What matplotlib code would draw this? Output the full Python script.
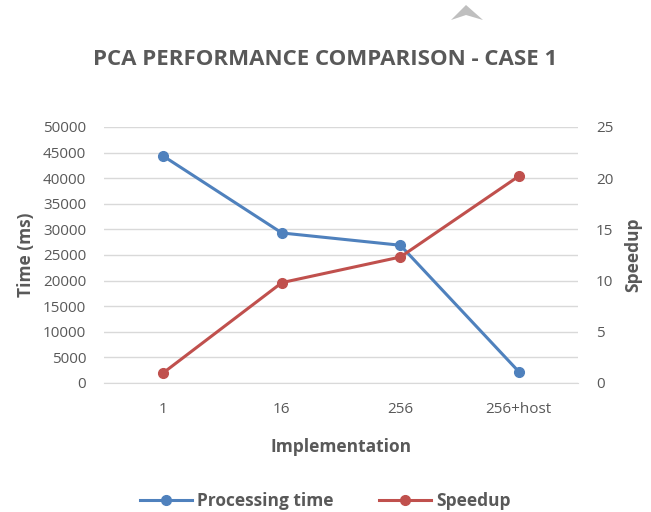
import numpy as np
import matplotlib
matplotlib.use('Agg')
import matplotlib.pyplot as plt
from matplotlib.patches import Polygon

categories = ['1', '16', '256', '256+host']
proc_time = [44300, 29300, 26900, 2200]
speedup = [1.0, 9.8, 12.3, 20.2]

BLUE = '#4f81bd'
RED = '#c0504d'
GRAY = '#595959'

plt.rcParams['font.family'] = ['Open Sans', 'DejaVu Sans']

fig = plt.figure(figsize=(6.51, 5.12), dpi=100)
ax = fig.add_axes([0.160, 0.252, 0.728, 0.500])
ax2 = ax.twinx()

x = np.arange(len(categories))
l1, = ax.plot(x, proc_time, color=BLUE, lw=2.2, marker='o', ms=7, label='Processing time')
l2, = ax2.plot(x, speedup, color=RED, lw=2.2, marker='o', ms=7, label='Speedup')

ax.set_xlim(-0.5, 3.5)
ax.set_ylim(0, 50000)
ax.set_yticks(np.arange(0, 50001, 5000))
ax2.set_ylim(0, 25)
ax2.set_yticks(np.arange(0, 26, 5))
ax.set_xticks(x)
ax.set_xticklabels(categories)

ax.grid(axis='y', color='#d9d9d9', lw=1)
ax.set_axisbelow(True)
for a in (ax, ax2):
    for s in a.spines.values():
        s.set_visible(False)
    a.tick_params(length=0, labelsize=11, colors=GRAY, pad=13)
ax.spines['bottom'].set_visible(True)
ax.spines['bottom'].set_color('#d9d9d9')
ax.tick_params(axis='x', pad=14)

ax.set_xlabel('Implementation', fontsize=12.5, fontweight='bold', color=GRAY, labelpad=15)
ax.set_ylabel('Time (ms)', fontsize=12.5, fontweight='bold', color=GRAY, labelpad=6)
ax2.set_ylabel('Speedup', fontsize=12.5, fontweight='bold', color=GRAY, labelpad=8)

fig.text(0.5, 0.883, 'PCA PERFORMANCE COMPARISON - CASE 1', ha='center', va='center',
         fontsize=16, fontweight='bold', color=GRAY)

fig.legend(handles=[l1, l2], loc='center', bbox_to_anchor=(0.5, 0.022), ncol=2,
           frameon=False, prop={'weight': 'bold', 'size': 12.5},
           columnspacing=2.6, handlelength=3, handletextpad=0.3, labelcolor=GRAY)

# small chevron at top
chev = Polygon([[451/651, 1-20/512], [466/651, 1-5/512], [483/651, 1-20/512],
                [466/651, 1-15/512]], closed=True, transform=fig.transFigure,
               facecolor='#bfbfbf', edgecolor='none')
fig.patches.append(chev)

fig.savefig('out.png', dpi=100)
